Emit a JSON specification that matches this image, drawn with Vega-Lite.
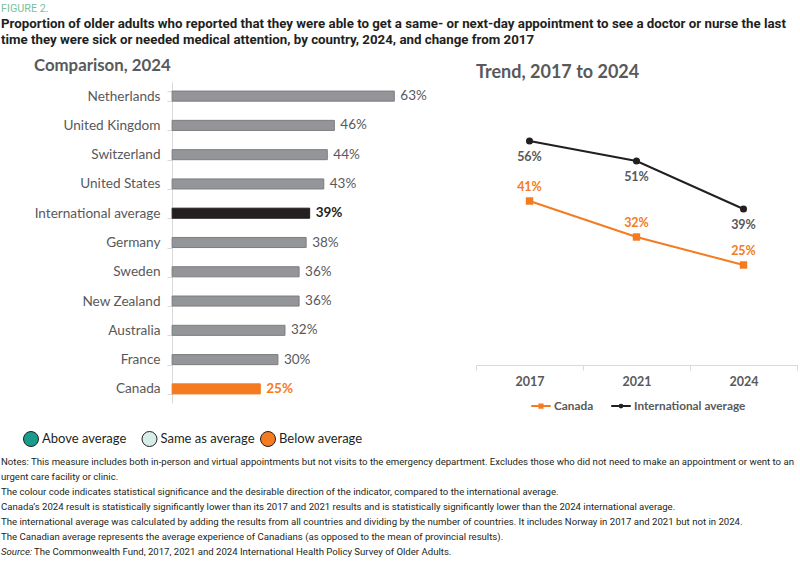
{
  "$schema": "https://vega.github.io/schema/vega-lite/v6.json",
  "padding": {"left": 1, "top": 3, "right": 0, "bottom": 0},
  "background": "white",
  "config": {"view": {"stroke": null}, "font": "Lato"},
  "title": {
    "text": "FIGURE 2.",
    "subtitle": [
      "Proportion of older adults who reported that they were able to get a same- or next-day appointment to see a doctor or nurse the last",
      "time they were sick or needed medical attention, by country, 2024, and change from 2017"
    ],
    "anchor": "start",
    "frame": "bounds",
    "font": "Roboto",
    "fontSize": 10.8,
    "fontWeight": "normal",
    "color": "#7dbf9c",
    "subtitleFont": "Roboto",
    "subtitleFontSize": 13.3,
    "subtitleFontWeight": "bold",
    "subtitleColor": "#231f20",
    "subtitleLineHeight": 16,
    "subtitlePadding": 3,
    "offset": 12
  },
  "datasets": {
    "bars": [
      {"country": "Netherlands", "value": 0.63, "group": "Country"},
      {"country": "United Kingdom", "value": 0.46, "group": "Country"},
      {"country": "Switzerland", "value": 0.44, "group": "Country"},
      {"country": "United States", "value": 0.43, "group": "Country"},
      {"country": "International average", "value": 0.39, "group": "International average"},
      {"country": "Germany", "value": 0.38, "group": "Country"},
      {"country": "Sweden", "value": 0.36, "group": "Country"},
      {"country": "New Zealand", "value": 0.36, "group": "Country"},
      {"country": "Australia", "value": 0.32, "group": "Country"},
      {"country": "France", "value": 0.30, "group": "Country"},
      {"country": "Canada", "value": 0.25, "group": "Canada"}
    ],
    "trend": [
      {"year": "2017", "series": "Canada", "value": 0.41},
      {"year": "2021", "series": "Canada", "value": 0.32},
      {"year": "2024", "series": "Canada", "value": 0.25},
      {"year": "2017", "series": "International average", "value": 0.56},
      {"year": "2021", "series": "International average", "value": 0.51},
      {"year": "2024", "series": "International average", "value": 0.39}
    ],
    "status": [
      {"status": "Above average"},
      {"status": "Same as average"},
      {"status": "Below average"}
    ],
    "notes": [
      {"line": 1, "label": "", "text": "Notes: This measure includes both in-person and virtual appointments but not visits to the emergency department. Excludes those who did not need to make an appointment or went to an"},
      {"line": 2, "label": "", "text": "urgent care facility or clinic."},
      {"line": 3, "label": "", "text": "The colour code indicates statistical significance and the desirable direction of the indicator, compared to the international average."},
      {"line": 4, "label": "", "text": "Canada’s 2024 result is statistically significantly lower than its 2017 and 2021 results and is statistically significantly lower than the 2024 international average."},
      {"line": 5, "label": "", "text": "The international average was calculated by adding the results from all countries and dividing by the number of countries. It includes Norway in 2017 and 2021 but not in 2024."},
      {"line": 6, "label": "", "text": "The Canadian average represents the average experience of Canadians (as opposed to the mean of provincial results)."},
      {"line": 7, "label": "Source:", "text": "The Commonwealth Fund, 2017, 2021 and 2024 International Health Policy Survey of Older Adults."}
    ]
  },
  "resolve": {
    "scale": {"color": "independent", "fill": "independent", "stroke": "independent", "shape": "independent", "size": "independent"},
    "legend": {"color": "independent", "fill": "independent", "stroke": "independent", "shape": "independent", "size": "independent"}
  },
  "spacing": 14,
  "vconcat": [
    {
      "spacing": 48,
      "resolve": {
        "scale": {"color": "independent", "stroke": "independent", "shape": "independent", "size": "independent"},
        "legend": {"color": "independent"}
      },
      "hconcat": [
        {
          "width": 418,
          "height": 321,
          "title": {
            "text": "Comparison, 2024",
            "anchor": "start",
            "frame": "group",
            "dx": 33,
            "fontSize": 16.8,
            "font": "Lato",
            "fontWeight": "bold",
            "color": "#58595b",
            "offset": 0
          },
          "data": {"name": "bars"},
          "encoding": {
            "y": {
              "field": "country",
              "type": "nominal",
              "sort": null,
              "scale": {"paddingInner": 0.656, "paddingOuter": 0.31},
              "axis": {
                "title": null,
                "offset": -171,
                "domainColor": "#d9d9d9",
                "tickColor": "#d9d9d9",
                "tickBand": "extent",
                "tickSize": 5,
                "labelFont": "Lato",
                "labelFontSize": 13.6,
                "labelColor": "#58595b",
                "labelPadding": 7
              }
            },
            "x": {"field": "value", "type": "quantitative", "scale": {"domain": [-0.4852, 0.7], "nice": false}, "axis": null}
          },
          "layer": [
            {
              "mark": {"type": "bar", "strokeWidth": 1},
              "encoding": {
                "color": {
                  "field": "group",
                  "scale": {"domain": ["Country", "International average", "Canada"], "range": ["#939598", "#231f20", "#f47b20"]},
                  "legend": null
                },
                "stroke": {
                  "field": "group",
                  "scale": {"domain": ["Country", "International average", "Canada"], "range": ["#7d7d80", "#231f20", "#f47b20"]},
                  "legend": null
                }
              }
            },
            {
              "transform": [{"filter": "datum.group === 'Country'"}],
              "mark": {"type": "text", "align": "left", "dx": 6, "font": "Lato", "fontSize": 13.5, "color": "#58595b"},
              "encoding": {"text": {"field": "value", "format": ".0%"}}
            },
            {
              "transform": [{"filter": "datum.group !== 'Country'"}],
              "mark": {"type": "text", "align": "left", "dx": 6, "font": "Lato", "fontSize": 13.5, "fontWeight": "bold"},
              "encoding": {
                "text": {"field": "value", "format": ".0%"},
                "color": {
                  "field": "group",
                  "scale": {"domain": ["Country", "International average", "Canada"], "range": ["#939598", "#231f20", "#f47b20"]},
                  "legend": null
                }
              }
            }
          ]
        },
        {
          "width": 321,
          "height": 283,
          "title": {
            "text": "Trend, 2017 to 2024",
            "anchor": "start",
            "frame": "group",
            "fontSize": 18,
            "font": "Lato",
            "fontWeight": "bold",
            "color": "#58595b",
            "offset": 0
          },
          "data": {"name": "trend"},
          "encoding": {
            "x": {
              "field": "year",
              "type": "ordinal",
              "bandPosition": 0.5,
              "scale": {"type": "band", "paddingInner": 0, "paddingOuter": 0},
              "axis": {
                "title": null,
                "labelAngle": 0,
                "domainColor": "#d9d9d9",
                "tickColor": "#d9d9d9",
                "tickBand": "extent",
                "tickSize": 5,
                "labelFont": "Lato",
                "labelFontSize": 12.5,
                "labelFontWeight": "bold",
                "labelColor": "#58595b",
                "labelPadding": 5
              }
            },
            "y": {"field": "value", "type": "quantitative", "scale": {"domain": [0, 0.7075], "nice": false}, "axis": null},
            "color": {
              "field": "series",
              "type": "nominal",
              "scale": {"domain": ["Canada", "International average"], "range": ["#f47b20", "#231f20"]},
              "legend": {
                "orient": "none",
                "legendX": 54,
                "legendY": 313,
                "direction": "horizontal",
                "title": null,
                "symbolType": "M-1,0H1M-0.16,-0.16H0.16V0.16H-0.16Z",
                "symbolSize": 380,
                "symbolStrokeWidth": 2,
                "labelFont": "Lato",
                "labelFontSize": 11.8,
                "labelFontWeight": "bold",
                "labelColor": "#58595b",
                "labelOffset": 2,
                "columnPadding": 13,
                "encode": {
                  "symbols": {
                    "update": {
                      "shape": {"signal": "datum.value === 'Canada' ? 'M-1,0H1M-0.16,-0.16H0.16V0.16H-0.16Z' : 'M-1,0H1M0.14,0A0.14,0.14 0 1,1 -0.14,0A0.14,0.14 0 1,1 0.14,0'"},
                      "fill": {"signal": "datum.value === 'Canada' ? '#f47b20' : '#231f20'"},
                      "stroke": {"signal": "datum.value === 'Canada' ? '#f47b20' : '#231f20'"},
                      "opacity": {"value": 1}
                    }
                  }
                }
              }
            }
          },
          "layer": [
            {"mark": {"type": "line", "strokeWidth": 2}},
            {
              "transform": [{"filter": "datum.series === 'Canada'"}],
              "mark": {"type": "point", "shape": "square", "filled": true, "opacity": 1, "size": 55}
            },
            {
              "transform": [{"filter": "datum.series === 'International average'"}],
              "mark": {"type": "point", "shape": "circle", "filled": true, "opacity": 1, "size": 50}
            },
            {
              "transform": [{"filter": "datum.series === 'Canada'"}],
              "mark": {"type": "text", "dy": -14, "font": "Lato", "fontSize": 12.5, "fontWeight": "bold"},
              "encoding": {"text": {"field": "value", "format": ".0%"}}
            },
            {
              "transform": [{"filter": "datum.series === 'International average'"}],
              "mark": {"type": "text", "dy": 16, "font": "Lato", "fontSize": 12.5, "fontWeight": "bold"},
              "encoding": {"text": {"field": "value", "format": ".0%"}, "color": {"value": "#58595b"}}
            }
          ]
        }
      ]
    },
    {
      "spacing": 4,
      "vconcat": [
        {
          "width": 297,
          "height": 24,
          "data": {"name": "status"},
          "encoding": {
            "x": {"field": "status", "type": "nominal", "sort": null, "scale": {"type": "point", "padding": 0.253}, "axis": null}
          },
          "layer": [
            {
              "mark": {"type": "point", "shape": "circle", "filled": true, "size": 225, "stroke": "#231f20", "strokeWidth": 1, "opacity": 1},
              "encoding": {
                "fill": {
                  "field": "status",
                  "type": "nominal",
                  "scale": {"domain": ["Above average", "Same as average", "Below average"], "range": ["#1a9c8c", "#d6ede8", "#f47b20"]},
                  "legend": null
                }
              }
            },
            {
              "mark": {"type": "text", "align": "left", "dx": 11, "font": "Lato", "fontSize": 13, "color": "#231f20"},
              "encoding": {"text": {"field": "status"}}
            }
          ]
        },
        {
          "width": 790,
          "height": 104,
          "data": {"name": "notes"},
          "encoding": {
            "y": {"field": "line", "type": "ordinal", "bandPosition": 0.5, "scale": {"type": "band", "paddingInner": 0, "paddingOuter": 0}, "axis": null}
          },
          "layer": [
            {
              "transform": [{"filter": "datum.label === ''"}],
              "mark": {"type": "text", "align": "left", "baseline": "middle", "font": "Roboto", "fontSize": 9.6, "color": "#231f20", "x": 0},
              "encoding": {"text": {"field": "text"}}
            },
            {
              "transform": [{"filter": "datum.label !== ''"}],
              "mark": {"type": "text", "align": "left", "baseline": "middle", "font": "Roboto", "fontSize": 9.6, "fontStyle": "italic", "color": "#231f20", "x": 0},
              "encoding": {"text": {"field": "label"}}
            },
            {
              "transform": [{"filter": "datum.label !== ''"}],
              "mark": {"type": "text", "align": "left", "baseline": "middle", "font": "Roboto", "fontSize": 9.6, "color": "#231f20", "x": 0, "dx": 33},
              "encoding": {"text": {"field": "text"}}
            }
          ]
        }
      ]
    }
  ]
}
